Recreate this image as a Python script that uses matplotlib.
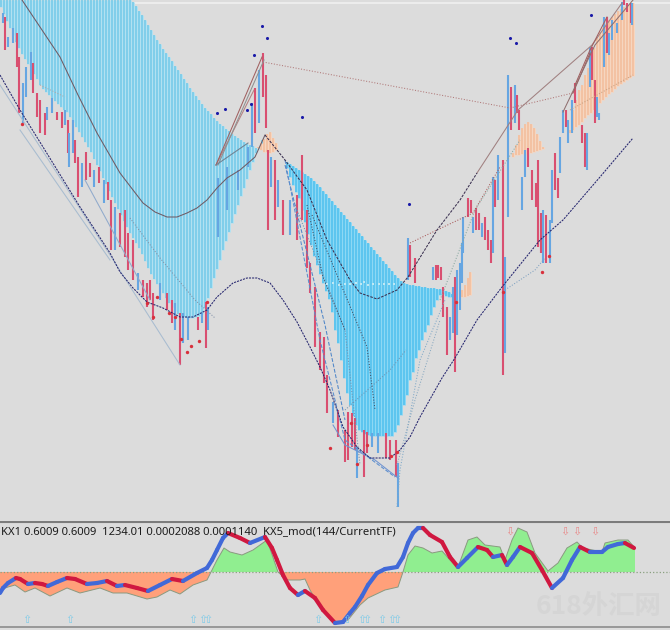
#!/usr/bin/env python3

import numpy as np
from matplotlib import pyplot as plt

# big blue stripes, left one
band1_x = np.arange(1, 263, 3)
band1_top = [0] * 44 + [2, 6, 11, 15, 20, 25, 30, 35, 40, 44, 49, 53, 57, 61, 66, 70, 74, 79, 83, 88, 92, 96,
                        100, 104, 108, 111, 114, 118, 121, 124, 126, 129, 131, 134, 136, 138, 140, 142, 144,
                        145, 146, 148, 149, 150]
band1_bot = [7, 14, 21, 28, 35, 42, 48, 54, 59, 64, 69, 74, 79, 85, 89, 92, 95, 98, 101, 104, 107, 110, 112,
             117, 122, 127, 132, 137, 142, 147, 152, 159, 165, 171, 178, 184, 191, 197, 203, 209, 215, 221,
             227, 233, 238, 243, 248, 254, 261, 268, 274, 279, 284, 289, 293, 298, 303, 307, 311, 314, 316,
             317, 318, 318, 318, 317, 316, 314, 308, 298, 288, 278, 269, 260, 250, 241, 232, 223, 214, 205,
             196, 188, 179, 170, 162, 153, 147, 140]

# blue stripes, right one
band2_x = np.arange(284, 456, 3)
band2_top = [160, 162, 164, 166, 168, 170, 172, 174, 176, 178, 181, 184, 187, 191, 194, 198, 201, 205, 208,
             212, 215, 219, 222, 226, 229, 233, 236, 240, 243, 247, 250, 254, 257, 261, 264, 268, 271, 275,
             278, 281, 283, 284, 285, 285, 286, 286, 287, 287, 288, 288, 288, 289, 289, 290, 291, 292, 294, 295]
band2_bot = [160, 168, 177, 185, 192, 198, 210, 222, 234, 245, 256, 265, 274, 283, 291, 299, 312, 330, 343,
             360, 378, 393, 405, 416, 425, 430, 432, 434, 435, 436, 436, 436, 436, 436, 436, 436, 436, 432,
             425, 415, 405, 395, 380, 372, 358, 350, 340, 332, 325, 315, 307, 300, 295, 294, 296, 297, 297, 297]

# peach stripes
peach_x = [258, 261, 264, 267, 270, 273, 276, 279,
           462, 465, 468, 470,
           513, 516, 519, 522, 525, 528, 531, 534, 537, 540, 543,
           570, 573, 576, 579, 582, 585, 588, 591, 594, 597, 600, 603, 606, 609, 612, 615, 618, 621, 624,
           627, 630, 633]
peach_top = [147, 143, 139, 134, 132, 138, 143, 148,
             290, 285, 278, 272,
             153, 145, 135, 128, 124, 122, 124, 128, 134, 141, 147,
             130, 110, 100, 90, 85, 75, 68, 60, 48, 38, 32, 28, 24, 20, 17, 14, 11, 9, 7, 5, 4, 3]
peach_bot = [148, 150, 152, 152, 153, 152, 150, 148,
             297, 297, 296, 295,
             157, 155, 155, 154, 154, 153, 153, 152, 151, 150, 149,
             133, 130, 127, 125, 122, 118, 115, 113, 110, 107, 103, 100, 97, 94, 92, 89, 86, 84, 82, 80, 78, 76]

# candles: x, high, low, colour (r / b)
candles = [
    (3, 13, 23, 'b'), (5, 17, 50, 'r'), (8, 37, 47, 'b'), (13, 28, 43, 'b'), (17, 33, 67, 'r'), (19, 57, 113, 'r'),
    (23, 83, 123, 'b'), (26, 67, 97, 'b'), (31, 52, 80, 'b'), (33, 63, 93, 'r'), (37, 93, 117, 'r'), (40, 100, 133, 'r'),
    (45, 113, 135, 'r'), (47, 107, 120, 'b'), (52, 98, 113, 'b'), (57, 112, 120, 'r'), (62, 112, 128, 'r'), (65, 110, 125, 'b'),
    (68, 120, 153, 'r'), (69, 133, 167, 'b'), (73, 120, 153, 'b'), (75, 140, 163, 'r'), (78, 157, 197, 'r'), (82, 163, 187, 'b'),
    (86, 152, 180, 'r'), (90, 163, 177, 'r'), (94, 170, 187, 'b'), (99, 167, 183, 'r'), (104, 180, 203, 'b'), (108, 182, 200, 'r'),
    (111, 200, 250, 'r'), (115, 207, 250, 'b'), (120, 213, 247, 'r'), (125, 210, 257, 'r'), (128, 233, 270, 'r'), (133, 240, 280, 'r'),
    (138, 273, 290, 'b'), (143, 280, 297, 'r'), (147, 283, 307, 'r'), (150, 280, 300, 'r'), (153, 293, 320, 'r'), (160, 283, 300, 'b'),
    (167, 293, 310, 'r'), (172, 300, 323, 'r'), (175, 303, 330, 'b'), (180, 313, 365, 'r'), (183, 313, 343, 'b'), (188, 317, 340, 'b'),
    (198, 317, 330, 'r'), (202, 313, 323, 'b'), (206, 302, 348, 'r'), (208, 307, 330, 'b'),
    (218, 178, 237, 'b'), (227, 167, 210, 'b'), (238, 170, 190, 'b'), (248, 147, 167, 'b'), (252, 103, 147, 'b'), (255, 88, 133, 'r'),
    (259, 70, 123, 'b'), (263, 53, 97, 'r'), (266, 75, 128, 'r'), (268, 150, 230, 'r'), (271, 157, 187, 'b'), (275, 160, 220, 'r'),
    (278, 180, 207, 'b'), (283, 200, 235, 'r'), (290, 200, 235, 'b'), (297, 195, 240, 'r'), (302, 155, 220, 'r'), (307, 210, 268, 'r'),
    (310, 263, 293, 'r'), (315, 287, 347, 'r'), (320, 332, 370, 'r'), (324, 337, 383, 'r'), (327, 375, 413, 'r'), (333, 402, 423, 'b'),
    (338, 410, 437, 'r'), (345, 430, 462, 'r'), (348, 412, 460, 'r'), (352, 413, 447, 'r'), (355, 418, 450, 'r'), (357, 447, 478, 'b'),
    (364, 430, 477, 'r'), (367, 432, 453, 'r'), (372, 433, 447, 'b'), (378, 433, 453, 'b'), (386, 433, 458, 'r'), (390, 440, 460, 'r'),
    (396, 440, 477, 'r'), (398, 463, 507, 'b'),
    (408, 238, 280, 'b'), (410, 245, 277, 'r'), (415, 258, 283, 'r'), (433, 267, 280, 'b'), (436, 265, 280, 'r'), (438, 265, 278, 'r'),
    (441, 267, 280, 'r'), (443, 287, 317, 'r'), (447, 307, 355, 'r'), (450, 317, 340, 'b'), (453, 287, 333, 'b'), (455, 277, 372, 'r'),
    (457, 270, 335, 'b'), (460, 263, 310, 'b'), (462, 243, 283, 'b'), (463, 217, 253, 'b'), (468, 198, 217, 'r'), (471, 200, 213, 'r'),
    (473, 217, 233, 'b'), (476, 208, 230, 'r'), (479, 213, 230, 'r'), (482, 223, 237, 'b'), (485, 217, 240, 'r'), (488, 230, 250, 'r'),
    (491, 240, 263, 'r'), (493, 177, 253, 'b'), (495, 180, 207, 'r'), (498, 155, 200, 'b'), (503, 160, 375, 'r'), (505, 257, 353, 'b'),
    (508, 75, 217, 'b'), (511, 87, 130, 'r'), (515, 85, 123, 'b'), (517, 95, 113, 'r'), (519, 110, 130, 'r'),
    (522, 177, 210, 'b'), (525, 150, 177, 'b'), (528, 148, 167, 'r'), (532, 170, 200, 'r'), (536, 183, 207, 'r'), (538, 160, 247, 'r'),
    (541, 213, 253, 'r'), (543, 210, 263, 'b'), (546, 215, 263, 'r'), (550, 220, 263, 'b'), (552, 170, 223, 'b'), (555, 153, 190, 'r'),
    (558, 178, 198, 'r'), (560, 137, 173, 'b'), (563, 110, 133, 'b'), (566, 110, 127, 'r'), (568, 120, 143, 'b'), (572, 100, 133, 'b'),
    (575, 83, 103, 'r'), (582, 125, 143, 'r'), (585, 133, 167, 'r'), (587, 133, 170, 'b'), (590, 47, 87, 'b'), (592, 47, 80, 'r'),
    (595, 80, 123, 'r'), (597, 97, 117, 'b'), (599, 113, 120, 'b'), (604, 17, 67, 'b'), (607, 17, 53, 'r'), (609, 33, 55, 'b'),
    (612, 20, 40, 'b'), (617, 23, 33, 'b'), (622, 2, 20, 'b'), (624, 0, 5, 'r'), (627, 3, 12, 'r'), (631, 3, 23, 'r'), (632, 3, 25, 'b'),
]

# trend curve, navy, dashed
navy_x = [0, 20, 43, 80, 110, 120, 133, 147, 163, 180, 193, 207, 217, 233, 247, 257, 270, 283, 297, 310, 320, 330, 343, 357, 370,
          390, 400, 410, 420, 442, 455, 477, 502, 540, 563, 600, 633]
navy_y = [75, 110, 147, 207, 253, 272, 288, 302, 308, 317, 317, 310, 297, 283, 278, 278, 283, 300, 322, 347, 367, 390, 427, 447, 458,
          458, 450, 437, 417, 378, 358, 320, 287, 240, 220, 177, 138]

# dark brown curve top left
brown_x = [22, 40, 60, 78, 97, 120, 133, 143, 155, 167, 177, 187, 197, 207, 217, 227, 240, 255, 265]
brown_y = [0, 27, 57, 95, 133, 173, 190, 203, 212, 217, 217, 213, 208, 200, 188, 178, 170, 157, 135]

# dashed arc through the right band
arc_x = [265, 285, 307, 327, 350, 360, 377, 397, 408, 437, 460, 477]
arc_y = [135, 160, 190, 240, 280, 293, 299, 290, 277, 230, 200, 173]

# thin trend lines: (xs, ys, colour, style)
thin_lines = [
    ([263, 510], [62, 108], '#b07878', ':'),
    ([510, 573], [108, 93], '#b07878', ':'),
    ([410, 437, 473, 500], [243, 230, 213, 167], '#a85a5a', ':'),
    ([477, 518, 592, 622], [173, 110, 45, 3], '#a08080', '-'),
    ([216, 254], [165, 90], '#b58080', '-'),
    ([216, 262], [165, 57], '#a06060', '-'),
    ([218, 264], [165, 60], '#909090', '-'),
    ([216, 248], [165, 143], '#708090', '-'),
    ([0, 110, 180], [85, 255, 365], '#a8bcd0', '-'),
    ([20, 110], [130, 260], '#a8bcd0', '-'),
    ([40, 65], [85, 97], '#b0a8a8', ':'),
    ([85, 150], [180, 300], '#90aacc', '-'),
    ([130, 160, 195, 215], [218, 258, 300, 318], '#8090a8', ':'),
    ([285, 325, 345], [165, 325, 420], '#4f86c8', '--'),
    ([285, 320, 345, 395], [160, 340, 440, 477], '#5a8ecf', '--'),
    ([295, 345, 360], [205, 330, 465], '#7090b0', ':'),
    ([307, 323, 345], [205, 277, 330], '#404a60', ':'),
    ([312, 367, 375], [215, 347, 410], '#404a60', ':'),
    ([345, 390, 406], [410, 370, 350], '#6f93b3', ':'),
    ([333, 345, 375, 398], [425, 445, 460, 478], '#6f93d0', '-'),
    ([397, 400, 420, 445], [507, 470, 360, 300], '#7fa8c8', ':'),
    ([397, 415, 440], [465, 400, 320], '#88a8c0', ':'),
    ([440, 475, 520], [300, 210, 140], '#88a8a0', ':'),
    ([505, 535, 545], [290, 270, 258], '#7fa0c0', ':'),
    ([570, 633], [110, 75], '#c8a080', ':'),
    ([573, 590], [93, 53], '#a05a5a', '-'),
    ([575, 590, 607], [85, 50, 17], '#a06060', '-'),
    ([563, 595, 633], [112, 45, 0], '#907070', '-'),
]

blue_dots_x = [262, 267, 254, 217, 225, 247, 251, 302, 409, 510, 516, 591]
blue_dots_y = [26, 38, 55, 113, 109, 110, 104, 117, 204, 38, 43, 15]
red_dots_x = [22, 147, 157, 153, 169, 175, 181, 187, 191, 199, 207, 330, 351, 357, 367, 391, 397, 456, 503, 542, 549]
red_dots_y = [124, 303, 297, 317, 313, 317, 339, 352, 346, 341, 302, 448, 423, 464, 445, 456, 452, 302, 292, 272, 256]

# pale specks on the band, the text there is not readable
speck_x = [327, 333, 339, 345, 350, 356, 361, 364, 368, 373, 379, 384, 389, 394]
speck_y = [284, 283, 285, 284, 284, 283, 284, 282, 285, 284, 284, 284, 284, 284]

# oscillator part, screen height values
zero_level = 572
hist_x = [0, 8, 15, 25, 35, 50, 67, 80, 100, 113, 127, 147, 157, 170, 180, 193, 207, 211, 217, 224, 230, 242, 253, 267, 278, 287,
          300, 305, 310, 320, 335, 348, 360, 368, 385, 398, 403, 408, 415, 423, 432, 442, 450, 458, 468, 477, 485, 500, 505, 512, 518,
          527, 535, 548, 558, 567, 577, 583, 602, 605, 618, 628, 635]
hist_y = [590, 587, 585, 592, 588, 596, 588, 593, 588, 593, 593, 599, 597, 590, 594, 585, 580, 572, 560, 548, 552, 555, 550, 540, 572, 580,
          580, 579, 590, 607, 623, 620, 605, 598, 590, 587, 572, 555, 546, 548, 553, 551, 560, 567, 540, 537, 545, 547, 560, 540, 528,
          532, 553, 571, 563, 548, 542, 548, 552, 543, 540, 540, 548]
osc_x = [0, 3, 8, 16, 20, 28, 35, 42, 48, 57, 67, 75, 87, 97, 107, 117, 125, 137, 148, 160, 172, 183, 197, 207, 212, 217, 223, 228,
         240, 250, 265, 272, 277, 283, 290, 298, 305, 315, 323, 335, 343, 350, 355, 362, 368, 377, 385, 397, 403, 408, 413, 418, 423,
         430, 442, 450, 458, 467, 478, 487, 493, 502, 507, 513, 520, 532, 542, 552, 563, 572, 580, 590, 602, 608, 618, 625, 634]
osc_y = [593, 588, 583, 578, 579, 584, 583, 584, 586, 582, 578, 579, 584, 583, 581, 586, 585, 588, 591, 585, 579, 581, 573, 568, 560, 550, 538, 533,
         538, 543, 537, 548, 560, 575, 588, 595, 591, 598, 610, 623, 622, 613, 607, 596, 585, 573, 569, 567, 557, 543, 533, 528, 528,
         535, 542, 557, 567, 558, 547, 550, 557, 555, 565, 557, 547, 553, 570, 588, 578, 560, 547, 552, 552, 547, 544, 543, 548]

up_arrows_x = [27, 70, 193, 203, 208, 318, 347, 362, 367, 382, 392, 397]
down_arrows_x = [510, 565, 577, 595]

label = "KX1 0.6009 0.6009  1234.01 0.0002088 0.0001140  KX5_mod(144/CurrentTF)"


def stripes(ax, x, top, bot, gap_col, col):
    # soft colour under the stripes, the reference is blurry
    ax.vlines(x, top, bot, color=gap_col, lw=2.16, zorder=2)
    ax.vlines(x, top, bot, color=col, lw=1.2, zorder=2)


def main():
    fig = plt.figure(figsize=(6.7, 6.3), dpi=100, facecolor='#dcdcdc')

    # price part and indicator part, both in picture height units
    ax = fig.add_axes([0, 1 - 521 / 630, 1, 521 / 630])
    osc = fig.add_axes([0, 0, 1, 109 / 630])
    ax.set_xlim(0, 670)
    ax.set_ylim(521, 0)
    osc.set_xlim(0, 670)
    osc.set_ylim(630, 521)
    for a in (ax, osc):
        a.set_facecolor('#dcdcdc')
        a.set_xticks([])
        a.set_yticks([])
        for s in a.spines.values():
            s.set_visible(False)

    ax.axhline(3, color='#f0f0f0', lw=1.2, xmin=0.2, zorder=1)

    stripes(ax, band1_x, band1_top, band1_bot, '#b2e1f1', '#78cbe9')
    stripes(ax, band2_x, band2_top, band2_bot, '#8cd8f4', '#54c2ee')
    stripes(ax, peach_x, peach_top, peach_bot, '#f6d6c0', '#f3bf9e')

    # candles
    colors = {'r': '#d94f70', 'b': '#66a6e2'}
    for x, hi, lo, c in candles:
        ax.vlines(x, hi, lo, color=colors[c], lw=1.5, zorder=3)

    # lines
    for xs, ys, col, ls in thin_lines:
        ax.plot(xs, ys, color=col, ls=ls, lw=0.75, zorder=4)
    ax.plot(brown_x, brown_y, color='#6f5a64', lw=0.75, zorder=4)
    ax.plot(arc_x, arc_y, color='#3a3050', lw=0.75, ls=(0, (2.5, 1.2)), zorder=4)
    ax.plot(navy_x, navy_y, color='#25256e', lw=0.75, ls=(0, (2, 1)), zorder=4)

    ax.scatter(speck_x, speck_y, s=3, marker='s', color='#bfe8f4', zorder=4, linewidths=0)
    ax.scatter(blue_dots_x, blue_dots_y, s=5, color='#1a1aa8', zorder=5, linewidths=0)
    ax.scatter(red_dots_x, red_dots_y, s=6, color='#d8303c', zorder=5, linewidths=0)

    # oscillator
    hx = np.array(hist_x)
    hy = np.array(hist_y)
    osc.fill_between(hx, hy, zero_level, where=hy <= zero_level, interpolate=True, color='#90ee90', lw=0, zorder=2)
    osc.fill_between(hx, hy, zero_level, where=hy >= zero_level, interpolate=True, color='#ffa07a', lw=0, zorder=2)
    osc.plot(hx, hy, color='#8a9a80', lw=0.7, zorder=3)
    osc.axhline(zero_level, color='#8aa080', lw=0.9, ls=':', zorder=3)

    for i in range(len(osc_x) - 1):
        # blue going up, red going down
        col = '#4169d8' if osc_y[i + 1] <= osc_y[i] else '#d01840'
        osc.plot(osc_x[i:i + 2], osc_y[i:i + 2], color=col, lw=3.0, solid_capstyle='round', zorder=4)

    for x in up_arrows_x:
        osc.text(x, 620, '\u21e7', color='#7fcbe8', fontsize=8, ha='center', va='center', zorder=5)
    for x in down_arrows_x:
        osc.text(x, 532, '\u21e9', color='#e88a8a', fontsize=8, ha='center', va='center', zorder=5)

    osc.axhline(521.5, color='#7c7c7c', lw=1.5, zorder=6)
    osc.axhline(627, color='#8c8c8c', lw=1.2, zorder=6)
    osc.text(1, 532, label, fontsize=8.1, family='Noto Sans', color='#1c1c1c', va='center', zorder=7)
    osc.text(536, 607, '618外汇网', fontsize=19, family=['Noto Sans CJK SC', 'DejaVu Sans'], weight='bold',
             color='#d5d5d5', va='center', zorder=1)

    fig.savefig('out.png', dpi=100, facecolor=fig.get_facecolor())


if __name__ == "__main__":
    main()
